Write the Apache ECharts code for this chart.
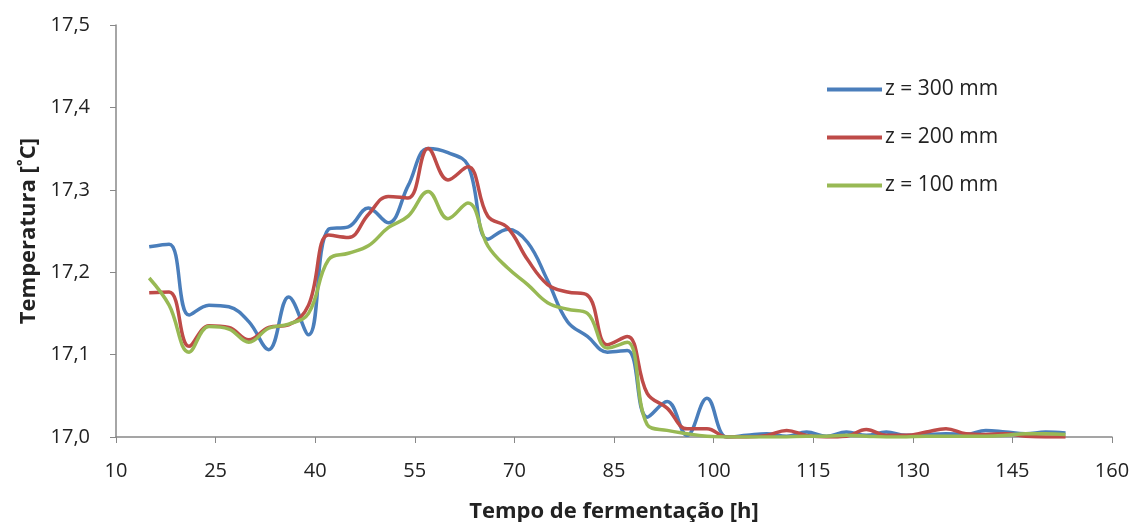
<!DOCTYPE html>
<html><head><meta charset="utf-8">
<script src="https://cdn.jsdelivr.net/npm/echarts@6/dist/echarts.min.js"></script>
<style>html,body{margin:0;padding:0;background:#fff}#c{width:1135px;height:522px}</style>
</head><body><div id="c"></div>
<script>
const times = [15,18,21,24,27,30,33,36,39,42,45,48,51,54,57,60,63,66,69,72,75,78,81,84,87,90,93,96,99,102,105,108,111,114,117,120,123,126,129,132,135,138,141,144,147,150,153];
const z300 = [17.231,17.234,17.148,17.160,17.158,17.140,17.106,17.170,17.124,17.252,17.255,17.278,17.260,17.305,17.350,17.345,17.330,17.240,17.252,17.236,17.190,17.140,17.122,17.103,17.105,17.024,17.043,17.002,17.047,17.000,17.002,17.004,17.001,17.006,17.001,17.006,17.002,17.006,17.002,17.003,17.004,17.003,17.008,17.006,17.004,17.006,17.005];
const z200 = [17.175,17.176,17.110,17.135,17.133,17.118,17.133,17.136,17.160,17.245,17.242,17.270,17.292,17.290,17.350,17.312,17.328,17.268,17.254,17.215,17.185,17.176,17.172,17.112,17.122,17.053,17.035,17.010,17.010,17.000,17.000,17.002,17.008,17.002,17.000,17.001,17.009,17.002,17.002,17.006,17.010,17.004,17.003,17.004,17.001,17.000,17.000];
const z100 = [17.193,17.160,17.103,17.134,17.131,17.115,17.132,17.137,17.150,17.215,17.223,17.232,17.254,17.268,17.298,17.265,17.284,17.232,17.205,17.185,17.163,17.155,17.150,17.108,17.115,17.015,17.008,17.004,17.001,17.000,17.000,17.000,17.000,17.001,17.001,17.002,17.001,17.000,17.000,17.001,17.001,17.001,17.001,17.002,17.004,17.004,17.003];
const seriesNames = ['z = 300 mm','z = 200 mm','z = 100 mm'];
const colors = ['#4A7EBB','#BE4B48','#98B954'];
const xTicks = {min:10,max:160,interval:15};
const yTicks = {min:17.0,max:17.5,interval:0.1};

const chart = echarts.init(document.getElementById('c'));
const font = 'Open Sans, Liberation Sans, sans-serif';
const mk = (name, vals, i) => ({
  name, type:'line', smooth:0.4, symbol:'none',
  data: times.map((t,k)=>[t, vals[k]]),
  lineStyle:{width:3.5,color:colors[i]}, itemStyle:{color:colors[i]}
});
chart.setOption({
  animation:false,
  textStyle:{fontFamily:font},
  grid:{left:116,right:23,top:25,bottom:85,containLabel:false,outerBoundsMode:'none'},
  legend:{orient:'vertical',left:822,top:74,itemWidth:55,itemHeight:22,itemGap:27,
    icon:'path://M0,0 L55,0 L55,4 L0,4 Z',
    textStyle:{fontSize:21,color:'#222',fontFamily:font,padding:[0,0,0,-2]},
    data:seriesNames},
  xAxis:{type:'value',min:xTicks.min,max:xTicks.max,interval:xTicks.interval,
    name:'Tempo de fermentação [h]',nameLocation:'middle',nameGap:64,
    nameTextStyle:{fontSize:22,fontWeight:'bold',color:'#222'},
    axisLine:{lineStyle:{color:'#888',width:1.5}},
    axisTick:{show:true,length:6,lineStyle:{color:'#888'}},
    axisLabel:{fontSize:20,color:'#222',margin:24},
    splitLine:{show:false}},
  yAxis:{type:'value',min:yTicks.min,max:yTicks.max,interval:yTicks.interval,
    name:'Temperatura [˚C]',nameLocation:'middle',nameGap:76,
    nameTextStyle:{fontSize:22,fontWeight:'bold',color:'#222'},
    axisLine:{show:true,lineStyle:{color:'#888',width:1.5}},
    axisTick:{show:true,length:6,lineStyle:{color:'#888'}},
    axisLabel:{fontSize:20,color:'#222',margin:26,formatter:v=>v.toFixed(1).replace('.',',')},
    splitLine:{show:false}},
  series:[mk(seriesNames[0],z300,0),mk(seriesNames[1],z200,1),mk(seriesNames[2],z100,2)]
});
</script></body></html>
